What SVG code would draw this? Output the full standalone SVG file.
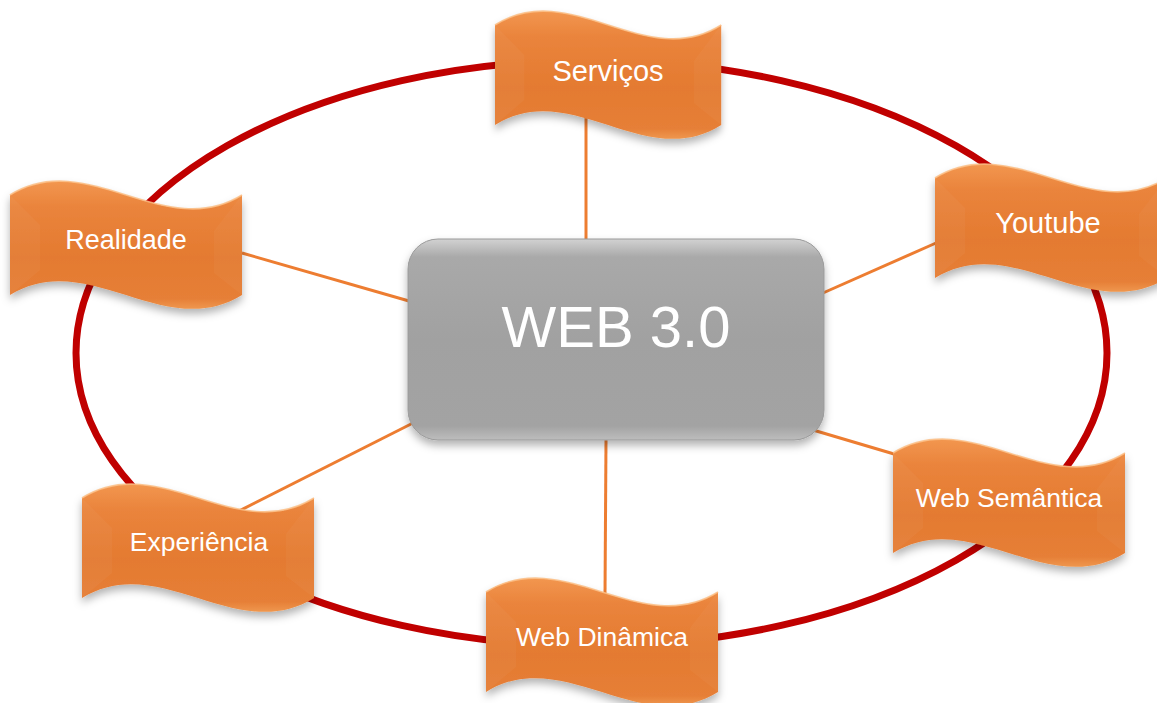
<svg xmlns="http://www.w3.org/2000/svg" xmlns:xlink="http://www.w3.org/1999/xlink" width="1157" height="703" viewBox="0 0 1157 703">
  <style>
    .ring { fill: none; stroke: #C00000; stroke-width: 7; }
    .conn { stroke: #ED7D31; stroke-width: 3; fill: none; }
    .lbl { font-family: "Liberation Sans", Arial, sans-serif; fill: #FFFFFF; text-anchor: middle; }
    .wave { fill: url(#orangeGrad); filter: url(#shadow); }
    .waveHi { fill: none; stroke: #FBBE85; stroke-width: 1.6; opacity: 0.85; }
    .bevelL { fill: #FFFFFF; opacity: 0.035; }
    .bevelR { fill: #FFFFFF; opacity: 0.03; }
  </style>
  <defs>
    <linearGradient id="orangeGrad" x1="0" y1="0" x2="0" y2="1">
      <stop offset="0" stop-color="#F2964F"/>
      <stop offset="0.2" stop-color="#EA843C"/>
      <stop offset="0.6" stop-color="#E47A30"/>
      <stop offset="0.92" stop-color="#E67F37"/>
      <stop offset="1" stop-color="#EF974F"/>
    </linearGradient>
    <linearGradient id="grayGrad" x1="0" y1="0" x2="0" y2="1">
      <stop offset="0" stop-color="#D2D2D2"/>
      <stop offset="0.09" stop-color="#A9A9A9"/>
      <stop offset="0.5" stop-color="#A1A1A1"/>
      <stop offset="0.93" stop-color="#A3A3A3"/>
      <stop offset="1" stop-color="#BDBDBD"/>
    </linearGradient>
    <filter id="shadow" x="-10%" y="-20%" width="120%" height="150%">
      <feDropShadow dx="0" dy="5" stdDeviation="4" flood-color="#000000" flood-opacity="0.3"/>
    </filter>
    <path id="wave" d="M0,0 C77,-48 155,48 232,0 L232,100 C155,148 77,52 0,100 Z"/>
    <path id="waveTop" d="M0,0 C77,-48 155,48 232,0"/>
    <polygon id="bevL" points="0,0 30,30 30,75 0,100"/>
    <polygon id="bevR" points="232,0 204,36 204,78 232,100"/>
  </defs>

  <ellipse class="ring" cx="591.5" cy="353" rx="515.5" ry="293"/>

  <g id="connectors">
    <line class="conn" x1="586" y1="118" x2="586" y2="240"/>
    <line class="conn" x1="242" y1="253" x2="409" y2="301"/>
    <line class="conn" x1="823" y1="293" x2="936" y2="243"/>
    <line class="conn" x1="813" y1="430" x2="894" y2="454"/>
    <line class="conn" x1="413" y1="423" x2="237" y2="512"/>
    <line class="conn" x1="606" y1="440" x2="605" y2="595"/>
  </g>

  <g id="node-web30">
    <rect x="408" y="239" width="416" height="201" rx="30" ry="30" fill="url(#grayGrad)" stroke="#9A9A9A" stroke-width="1" filter="url(#shadow)"/>
    <text class="lbl" x="616" y="347" font-size="58">WEB 3.0</text>
  </g>

  <g id="node-servicos">
    <g transform="translate(495,25) scale(0.975,1)">
      <use xlink:href="#wave" class="wave"/>
      <use xlink:href="#bevL" class="bevelL"/>
      <use xlink:href="#bevR" class="bevelR"/>
      <use xlink:href="#waveTop" class="waveHi"/>
    </g>
    <text class="lbl" x="608" y="81" font-size="29">Serviços</text>
  </g>

  <g id="node-realidade">
    <g transform="translate(10,195)">
      <use xlink:href="#wave" class="wave"/>
      <use xlink:href="#bevL" class="bevelL"/>
      <use xlink:href="#bevR" class="bevelR"/>
      <use xlink:href="#waveTop" class="waveHi"/>
    </g>
    <text class="lbl" x="126" y="249" font-size="27">Realidade</text>
  </g>

  <g id="node-youtube">
    <g transform="translate(935,178)">
      <use xlink:href="#wave" class="wave"/>
      <use xlink:href="#bevL" class="bevelL"/>
      <use xlink:href="#bevR" class="bevelR"/>
      <use xlink:href="#waveTop" class="waveHi"/>
    </g>
    <text class="lbl" x="1048" y="233" font-size="29">Youtube</text>
  </g>

  <g id="node-websemantica">
    <g transform="translate(893,453)">
      <use xlink:href="#wave" class="wave"/>
      <use xlink:href="#bevL" class="bevelL"/>
      <use xlink:href="#bevR" class="bevelR"/>
      <use xlink:href="#waveTop" class="waveHi"/>
    </g>
    <text class="lbl" x="1009" y="507" font-size="26.5">Web Semântica</text>
  </g>

  <g id="node-experiencia">
    <g transform="translate(82,498)">
      <use xlink:href="#wave" class="wave"/>
      <use xlink:href="#bevL" class="bevelL"/>
      <use xlink:href="#bevR" class="bevelR"/>
      <use xlink:href="#waveTop" class="waveHi"/>
    </g>
    <text class="lbl" x="199" y="551" font-size="26.5">Experiência</text>
  </g>

  <g id="node-webdinamica">
    <g transform="translate(486,592)">
      <use xlink:href="#wave" class="wave"/>
      <use xlink:href="#bevL" class="bevelL"/>
      <use xlink:href="#bevR" class="bevelR"/>
      <use xlink:href="#waveTop" class="waveHi"/>
    </g>
    <text class="lbl" x="602" y="646" font-size="26.5">Web Dinâmica</text>
  </g>
</svg>
